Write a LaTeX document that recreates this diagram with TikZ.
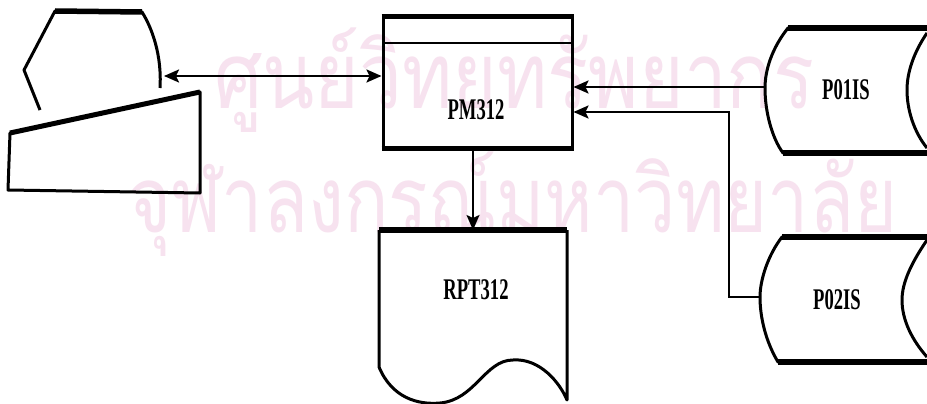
\documentclass[tikz,border=0pt]{standalone}
\usepackage{fontspec}
\usepackage{graphicx}
\usetikzlibrary{arrows.meta}
\newfontfamily\lblfont{Liberation Serif}
\newfontfamily\thaifont[Script=Thai]{Loma}
\definecolor{wm}{RGB}{247,226,239}
\newcommand{\lbltext}[1]{\scalebox{0.62}[1]{\lblfont\bfseries\fontsize{30}{30}\selectfont #1}}
\newcommand{\wmtext}[2]{\scalebox{#1}[1]{\thaifont\fontsize{92}{92}\selectfont #2}}
\tikzset{
  outline/.style={line width=3pt, line join=round},
  heavy/.style={line width=5.5pt},
  conn/.style={line width=2.2pt, -{Stealth[length=15pt,width=13pt,inset=3pt]}},
  lbl/.style={inner sep=0pt, text=black},
  wmark/.style={inner sep=0pt, text=wm, anchor=base west}
}
\begin{document}
\begin{tikzpicture}[x=1pt,y=-1pt]
\useasboundingbox (0,0) rectangle (927,404);
\fill[white] (0,0) rectangle (927,404);
% watermark
\node[wmark] (wm1) at (214,108) {\wmtext{0.83}{ศูนย์วิทยทรัพยากร}};
\node[wmark] (wm2) at (128,232) {\wmtext{0.8}{จุฬาลงกรณ์มหาวิทยาลัย}};

% terminal (display + keyboard)
\draw[outline] (40,110) -- (24,70) -- (55,11) -- (142,12) .. controls (152,28) and (162,55) .. (160,88);
\draw[heavy] (55,11) -- (142,12);
\draw[outline] (10,133) -- (200,92) -- (200,193) -- (8,190) -- cycle;
\draw[line width=5pt] (10,133) -- (200,92);
\coordinate (term) at (164,76);

% PM312 process
\node[draw, outline, minimum width=189pt, minimum height=129pt, inner sep=0pt] (pm) at (477.5,82.5) {};
\node[lbl] (pmlbl) at (476,110) {\lbltext{PM312}};
\draw[heavy] (pm.north west) -- (pm.north east);
\draw[heavy] (pm.south west) -- (pm.south east);
\draw[line width=2.2pt] (383,43) -- (572,43);

% RPT312 document
\coordinate (rptN) at (473,230);
\draw[outline] (567,230) -- (567,400) .. controls (560,383) and (540,358) .. (513,360)
  .. controls (485,360) and (475,400) .. (440,403)
  .. controls (418,405) and (392,398) .. (379,367) -- (379,230);
\draw[heavy] (379,230) -- (567,230);
\node[lbl] (rpt) at (476,290) {\lbltext{RPT312}};

% P01IS storage
\draw[outline] (927,28) -- (788,28) .. controls (772,48) and (765,70) .. (765,88)
  .. controls (765,112) and (772,138) .. (783,153) -- (927,153);
\draw[heavy] (788,28) -- (927,28);
\draw[heavy] (783,153) -- (927,153);
\draw[outline] (927,33) .. controls (914,52) and (907,72) .. (907,90)
  .. controls (907,110) and (914,132) .. (927,148);
\node[lbl] (p1) at (846,90) {\lbltext{P01IS}};
\coordinate (p1w) at (765,87);

% P02IS storage
\draw[outline] (927,237) -- (782,237) .. controls (768,255) and (760,280) .. (760,297)
  .. controls (760,318) and (766,342) .. (778,362) -- (927,362);
\draw[heavy] (782,237) -- (927,237);
\draw[heavy] (778,362) -- (927,362);
\draw[outline] (927,240) .. controls (912,262) and (902,282) .. (902,300)
  .. controls (902,320) and (912,340) .. (927,357);
\node[lbl] (p2) at (837,300) {\lbltext{P02IS}};
\coordinate (p2w) at (760,297);
\coordinate (bend) at (729,112);

% connectors
\draw[line width=2.2pt, {Stealth[length=15pt,width=13pt,inset=3pt]}-{Stealth[length=15pt,width=13pt,inset=3pt]}] (term) -- (pm.west |- term);
\draw[conn] (p1w) -- (pm.east |- p1w);
\draw[conn] (p2w) -| (bend) -- (pm.east |- bend);
\draw[conn, line width=1.8pt] (pm.south -| rptN) -- (rptN);
\end{tikzpicture}
\end{document}
